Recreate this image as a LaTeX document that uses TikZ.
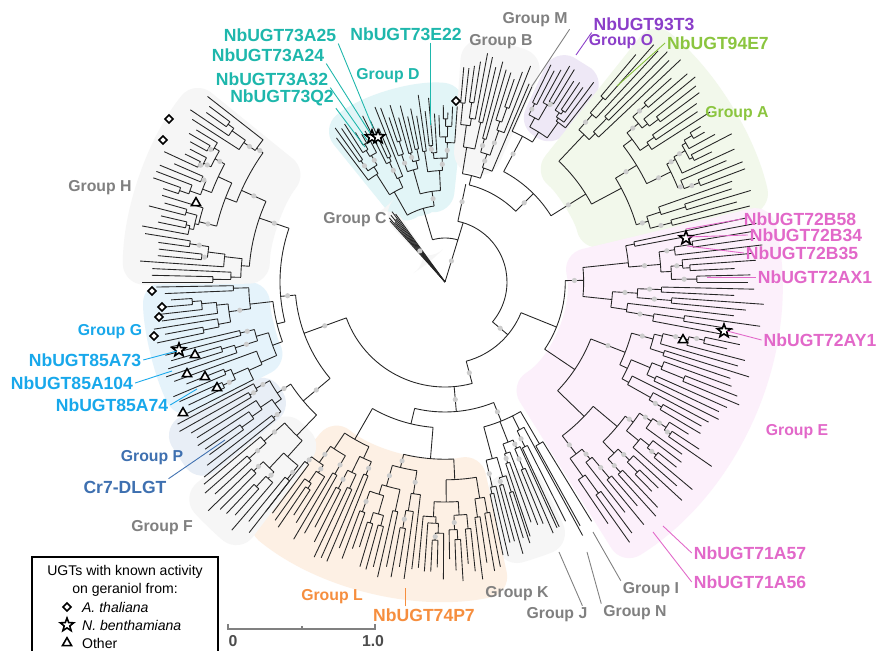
\documentclass[tikz,border=0pt]{standalone}
\usepackage{fontspec}
\setmainfont{Liberation Sans}
\setsansfont{Liberation Sans}
\usetikzlibrary{shapes.geometric}
\definecolor{grpteal}{RGB}{30,183,172}
\definecolor{grppurple}{RGB}{139,62,201}
\definecolor{grpgreen}{RGB}{139,197,63}
\definecolor{grppink}{RGB}{226,104,201}
\definecolor{grpblue}{RGB}{24,168,235}
\definecolor{grpsteel}{RGB}{62,112,176}
\definecolor{grporange}{RGB}{246,142,62}
\definecolor{grpgray}{RGB}{128,128,128}
\definecolor{bgteal}{RGB}{226,245,247}
\definecolor{bgpurple}{RGB}{238,232,246}
\definecolor{bggreen}{RGB}{242,248,235}
\definecolor{bgpink}{RGB}{252,240,251}
\definecolor{bgblue}{RGB}{229,243,251}
\definecolor{bgsteel}{RGB}{232,238,246}
\definecolor{bgorange}{RGB}{253,240,228}
\definecolor{bggray}{RGB}{246,246,246}
\tikzset{
    branch/.style={draw=black!85,line width=0.5pt},
    bootdot/.style={fill=black!20},
    glabel/.style={font=\sffamily\bfseries\fontsize{9}{10}\selectfont,inner sep=1pt},
    ugt/.style={font=\sffamily\bfseries\fontsize{10}{11}\selectfont,inner sep=1pt},
    legtxt/.style={font=\sffamily\fontsize{8}{9}\selectfont,inner sep=1pt},
    leader/.style={line width=0.5pt},
    diam/.style={diamond,draw=black,line width=0.9pt,inner sep=0pt,minimum size=5pt,fill=white},
    starsym/.style={star,star points=5,star point ratio=2.4,draw=black,line width=0.9pt,inner sep=0pt,minimum size=8pt,fill=white},
    trisym/.style={regular polygon,regular polygon sides=3,draw=black,line width=0.9pt,inner sep=0pt,minimum size=6pt,fill=white},
}
% random circular clade: leaves, first angle, parent radius, tip radius
\newcommand\clade[4]{%
  \pgfmathsetmacro\cang{#2+(#1-1)*\lstep/2}%
  \ifnum#1=1\relax
    \pgfmathsetmacro\rtip{max(#3+5,#4-rnd*\tipvar)}%
    \draw[branch] (\cang:#3) -- (\cang:\rtip);%
  \else
    \pgfmathsetmacro\rnod{#3+(#4-#3)*(0.06+0.22*rnd)}%
    \pgfmathtruncatemacro\na{max(1,min(#1-1,round(#1*(0.2+0.6*rnd))))}%
    \pgfmathtruncatemacro\nb{#1-\na}%
    \pgfmathsetmacro\ca{#2+(\na-1)*\lstep/2}%
    \pgfmathsetmacro\cb{#2+(#1+\na-1)*\lstep/2}%
    \pgfmathsetmacro\ab{#2+\na*\lstep}%
    \draw[branch] (\cang:#3) -- (\cang:\rnod) (\ca:\rnod) arc[start angle=\ca,end angle=\cb,radius=\rnod];%
    \pgfmathsetmacro\dotq{rnd}%
    \ifdim\dotq pt<0.4pt \fill[bootdot] (\cang:{(#3+\rnod)/2}) circle[radius=2.6];\fi
    \edef\nexta{\noexpand\clade{\na}{#2}{\rnod}{#4}}%
    \edef\nextb{\noexpand\clade{\nb}{\ab}{\rnod}{#4}}%
    {\nexta}{\nextb}%
  \fi}
% seed, leaves, first angle, last angle, parent radius, tip radius
\newcommand\cladegroup[6]{%
  \pgfmathsetseed{#1}%
  \pgfmathsetmacro\lstep{(#4-#3)/(#2-1)}%
  \pgfmathsetmacro\tipvar{0.16*(#6-#5)}%
  \clade{#2}{#3}{#5}{#6}}
% colour, first angle, last angle, inner radius, outer radius
\newcommand\groupbg[5]{%
  \fill[#1,rounded corners=12] (#2:#4) arc[start angle=#2,end angle=#3,radius=#4]
    -- (#3:#5) arc[start angle=#3,end angle=#2,radius=#5] -- cycle;}

\begin{document}
\begin{tikzpicture}[x=0.02cm,y=0.02cm]
\fill[white] (0,0) rectangle (877,-651);
\useasboundingbox (0,0) rectangle (877,-651);

\begin{scope}[shift={(445,-282)}]
% group shading
\groupbg{bgteal}{84}{129}{68}{198}
\groupbg{bggray}{65.5}{86}{110}{245}
\groupbg{bgpurple}{51}{65}{170}{258}
\groupbg{bggreen}{12.5}{51.5}{140}{335}
\groupbg{bgpink}{-58}{13.5}{120}{335}
\groupbg{bggray}{-79}{-64}{200}{290}
\groupbg{bgorange}{-129.5}{-78}{175}{318}
\groupbg{bggray}{-141}{-127}{200}{340}
\groupbg{bgsteel}{-153}{-140.5}{195}{318}
\groupbg{bgblue}{-180}{-152.5}{175}{302}
\groupbg{bggray}{-219}{-179.5}{175}{322}
\groupbg{bggray}{124}{134}{25}{95}

% backbone
\draw[branch] (0,0) -- (73:44) (73:44) arc[start angle=73,end angle=106.5,radius=44];
\draw[branch] (73:44) -- (73:62) (-40:62) arc[start angle=-40,end angle=78,radius=62];
\draw[branch] (78:62) -- (78:100) (45:100) arc[start angle=45,end angle=76,radius=100];
\draw[branch] (45:100) -- (45:125) (32:125) arc[start angle=32,end angle=62,radius=125];
\draw[branch] (62:125) -- (62:165) (58:165) arc[start angle=58,end angle=66,radius=165];
\draw[branch] (66:165) -- (66:214);
\draw[branch] (-40:62) -- (-40:82) (-75:82) arc[start angle=-75,end angle=-22,radius=82];
\draw[branch] (-75:82) -- (-75:105) (-160:105) arc[start angle=-160,end angle=-75,radius=105];
\draw[branch] (-85:105) -- (-85:130) (-103.5:130) arc[start angle=-103.5,end angle=-68,radius=130];
\draw[branch] (-68:130) -- (-68:150) (-75:150) arc[start angle=-75,end angle=-59.75,radius=150];
\draw[branch] (-160:105) -- (-160:150) (-175:150) arc[start angle=-175,end angle=-140,radius=150];
\draw[branch] (-140:150) -- (-140:185) (-146.5:185) arc[start angle=-146.5,end angle=-134,radius=185];
\draw[branch] (-175:150) -- (-175:165) (-199:165) arc[start angle=-199,end angle=-166,radius=165];
\foreach \a/\r in {126/84,127/88,128/80,129/86,130/78,131/85,132/82}
  \draw[branch] (0,0) -- (\a:\r);
\foreach \a/\r in {73/22,78/82,45/112,62/145,-40/72,-75/94,-85/118,-68/140,-160/128,-140/168,-175/158,129/40}
  \fill[bootdot] (\a:\r) circle[radius=2.6];

% groups
\cladegroup{11}{28}{14}{50}{125}{325}
\cladegroup{12}{10}{52}{64}{165}{250}
\cladegroup{13}{14}{67}{85}{100}{236}
\cladegroup{14}{28}{86}{127}{44}{190}
\cladegroup{15}{52}{-56}{12}{82}{325}
\cladegroup{16}{40}{-128}{-79}{130}{305}
\cladegroup{17}{7}{-78}{-72}{150}{285}
\cladegroup{18}{6}{-71.5}{-65.5}{150}{275}
\cladegroup{19}{3}{-65}{-61.5}{150}{290}
\cladegroup{20}{2}{-61}{-58.5}{150}{292}
\cladegroup{21}{10}{-140}{-128}{185}{330}
\cladegroup{22}{9}{-152}{-141}{185}{310}
\cladegroup{23}{20}{-179}{-153}{165}{295}
\cladegroup{24}{30}{-218}{-180}{165}{310}
\end{scope}

% markers
\node[diam] (d1) at (456,-101) {};
\node[diam] (d2) at (169,-119) {};
\node[diam] (d3) at (163,-140) {};
\node[diam] (d4) at (152,-291) {};
\node[diam] (d5) at (162,-307) {};
\node[diam] (d6) at (159,-317) {};
\node[diam] (d7) at (154,-336) {};
\node[starsym] (s1) at (372,-137) {};
\node[starsym] (s2) at (378,-137) {};
\node[starsym] (s3) at (179,-350) {};
\node[starsym] (s4) at (686,-238) {};
\node[starsym] (s5) at (724,-331) {};
\node[trisym] (r1) at (196,-203) {};
\node[trisym] (r2) at (195,-355) {};
\node[trisym] (r3) at (187,-374) {};
\node[trisym] (r4) at (205,-377) {};
\node[trisym] (r5) at (217,-388) {};
\node[trisym] (r6) at (183,-413) {};
\node[trisym] (r7) at (683,-340) {};

% group D
\node[ugt,text=grpteal] (l25) at (280,-35) {NbUGT73A25};
\node[ugt,text=grpteal] (l24) at (268,-55) {NbUGT73A24};
\node[ugt,text=grpteal] (l32) at (272,-79) {NbUGT73A32};
\node[ugt,text=grpteal] (lq2) at (282,-98) {NbUGT73Q2};
\node[ugt,text=grpteal] (l22) at (406,-34) {NbUGT73E22};
\node[glabel,text=grpteal] (gd) at (388,-76) {Group D};
\coordinate (t25) at (373,-128);
\coordinate (t24) at (370,-133);
\coordinate (t32) at (367,-140);
\coordinate (tq2) at (365,-147);
\coordinate (t22) at (430,-125);
\draw[leader,grpteal] (l25.south east) -- (t25);
\draw[leader,grpteal] (l24.south east) -- (t24);
\draw[leader,grpteal] (l32.south east) -- (t32);
\draw[leader,grpteal] (lq2.south east) -- (tq2);
\draw[leader,grpteal] (l22.south -| t22) -- (t22);

% groups B, M, O, A
\node[glabel,text=grpgray] (gm) at (535,-20) {Group M};
\node[glabel,text=grpgray] (gb) at (501,-42) {Group B};
\node[ugt,text=grppurple] (l93) at (644,-24) {NbUGT93T3};
\node[glabel,text=grppurple] (go) at (621,-42) {Group O};
\node[ugt,text=grpgreen] (l94) at (718,-43) {NbUGT94E7};
\node[glabel,text=grpgreen] (ga) at (737,-114) {Group A};
\coordinate (tm) at (532,-86);
\coordinate (t93) at (576,-55);
\coordinate (t94) at (617,-86);
\draw[leader,grpgray] (gm.south east) -- (tm);
\draw[leader,grppurple] (l93.south west) -- (t93);
\draw[leader,grpgreen] (l94.west) -- (t94);

% group E
\node[ugt,text=grppink] (lb58) at (800,-219) {NbUGT72B58};
\node[ugt,text=grppink] (lb34) at (806,-235) {NbUGT72B34};
\node[ugt,text=grppink] (lb35) at (802,-253) {NbUGT72B35};
\node[ugt,text=grppink] (lax1) at (815,-277) {NbUGT72AX1};
\node[ugt,text=grppink] (lay1) at (820,-340) {NbUGT72AY1};
\node[glabel,text=grppink] (ge) at (797,-432) {Group E};
\node[ugt,text=grppink] (l57) at (750,-553) {NbUGT71A57};
\node[ugt,text=grppink] (l56) at (750,-582) {NbUGT71A56};
\coordinate (tb58) at (686,-229);
\coordinate (tb34) at (687,-237);
\coordinate (tb35) at (687,-246);
\coordinate (tax1) at (707,-277);
\coordinate (tay1) at (727,-331);
\coordinate (t57) at (663,-526);
\coordinate (t56) at (653,-532);
\draw[leader,grppink] (lb58.west) -- (tb58);
\draw[leader,grppink] (lb34.west) -- (tb34);
\draw[leader,grppink] (lb35.west) -- (tb35);
\draw[leader,grppink] (lax1.west) -- (tax1);
\draw[leader,grppink] (lay1.west) -- (tay1);
\draw[leader,grppink] (l57.west) -- (t57);
\draw[leader,grppink] (l56.west) -- (t56);

% groups I, N, J, K, L
\node[glabel,text=grpgray] (gi) at (651,-590) {Group I};
\node[glabel,text=grpgray] (gn) at (635,-613) {Group N};
\node[glabel,text=grpgray] (gj) at (557,-615) {Group J};
\node[glabel,text=grpgray] (gk) at (517,-594) {Group K};
\node[glabel,text=grporange] (gl) at (332,-597) {Group L};
\node[ugt,text=grporange] (lp7) at (424,-615) {NbUGT74P7};
\coordinate (ti) at (593,-532);
\coordinate (tn) at (587,-552);
\coordinate (tj) at (559,-552);
\coordinate (tp7) at (405,-588);
\draw[leader,grpgray] (gi.north west) -- (ti);
\draw[leader,grpgray] (gn.north west) -- (tn);
\draw[leader,grpgray] ([xshift=-4pt]gj.north east) -- (tj);
\draw[leader,grporange] (lp7.north -| tp7) -- (tp7);

% groups H, G, P, F, C
\node[glabel,text=grpgray] (gh) at (100,-188) {Group H};
\node[glabel,text=grpgray] (gc) at (355,-220) {Group C};
\node[glabel,text=grpblue] (gg) at (110,-332) {Group G};
\node[ugt,text=grpblue] (l73) at (85,-360) {NbUGT85A73};
\node[ugt,text=grpblue] (l104) at (72,-383) {NbUGT85A104};
\node[ugt,text=grpblue] (l74) at (112,-405) {NbUGT85A74};
\node[glabel,text=grpsteel] (gp) at (152,-458) {Group P};
\node[ugt,text=grpsteel] (lcr) at (125,-487) {Cr7-DLGT};
\node[glabel,text=grpgray] (gf) at (162,-528) {Group F};
\coordinate (t73) at (177,-351);
\coordinate (t104) at (172,-371);
\coordinate (t74) at (197,-389);
\coordinate (tcr) at (225,-440);
\draw[leader,grpblue] (l73.east) -- (t73);
\draw[leader,grpblue] (l104.east) -- (t104);
\draw[leader,grpblue] (l74.east) -- (t74);
\draw[leader,grpsteel] (lcr.north east) -- (tcr);

% legend
\draw[line width=0.8pt] (32,-557) rectangle (218,-662);
\node[legtxt] (lg1) at (125,-572) {UGTs with known activity};
\node[legtxt] (lg2) at (125,-590) {on geraniol from:};
\node[diam] (ld) at (67,-607) {};
\node[legtxt,anchor=west] (la) at (80,-607) {\itshape A. thaliana};
\node[starsym] (ls) at (67,-625) {};
\node[legtxt,anchor=west] (lnb) at (80,-625) {\itshape N. benthamiana};
\node[trisym] (lt) at (67,-643) {};
\node[legtxt,anchor=west] (lo) at (80,-643) {Other};

% scale bar
\draw[grpgray,line width=0.7pt] (228,-624) -- (228,-629) -- (375,-629) -- (375,-624);
\draw[grpgray,line width=0.7pt] (302,-629) -- (302,-626);
\node[glabel,text=black!70] (s0) at (233,-641) {0};
\node[glabel,text=black!70] (s1) at (373,-641) {1.0};
\end{tikzpicture}
\end{document}
